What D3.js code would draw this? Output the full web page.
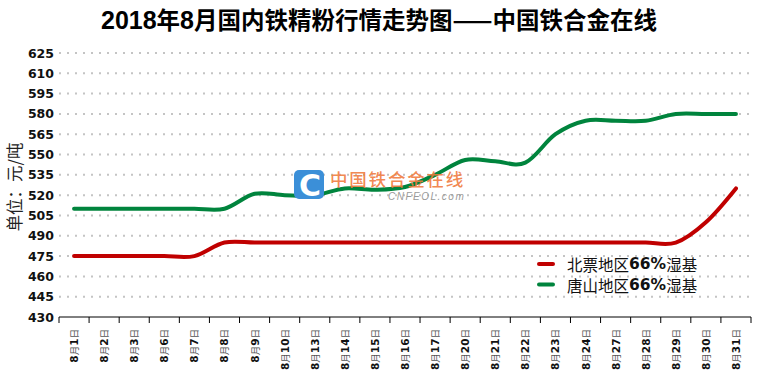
<!DOCTYPE html>
<html><head><meta charset="utf-8">
<script src="https://cdn.jsdelivr.net/npm/d3@7/dist/d3.min.js"></script>
<style>body{margin:0;background:#fff}svg{display:block}</style>
</head><body>
<script>
const categories = ["8月1日","8月2日","8月3日","8月6日","8月7日","8月8日","8月9日","8月10日","8月13日","8月14日","8月15日","8月16日","8月17日","8月20日","8月21日","8月22日","8月23日","8月24日","8月27日","8月28日","8月29日","8月30日","8月31日"];
const beipiao = [475,475,475,475,475,485,485,485,485,485,485,485,485,485,485,485,485,485,485,485,485,500,525];
const tangshan = [510,510,510,510,510,510,521,520,520,525,524,526,535,546,545,544,565,575,575,575,580,580,580];
const yTicks = [430,445,460,475,490,505,520,535,550,565,580,595,610,625];
const seriesNames = ["北票地区66%湿基","唐山地区66%湿基"];
const title = "2018年8月国内铁精粉行情走势图——中国铁合金在线";
const yTitle = "单位：元/吨";

const W = 760, H = 371;
const svg = d3.select("body").append("svg").attr("width", W).attr("height", H);
const x = d3.scaleBand().domain(categories).range([59, 751]);
const y = d3.scaleLinear().domain([430, 625]).range([317, 53]);

// title
const t = svg.append("text").attr("x", 379).attr("y", 29).attr("text-anchor", "middle")
  .attr("font-family", "'Noto Sans CJK SC'").attr("font-weight", "bold").attr("font-size", 23.5).attr("fill", "#000");
title.split(/(\d+)/).filter(s => s.length).forEach(s => {
  const ts = t.append("tspan").text(s);
  if (/^\d+$/.test(s)) ts.attr("font-family", "'Liberation Sans Narrow','Liberation Sans'").attr("font-size", 25);
});

// gridlines
svg.append("g").selectAll("line").data(yTicks.filter(v => v !== 430)).join("line")
  .attr("x1", 59).attr("x2", 751).attr("y1", d => y(d)).attr("y2", d => y(d))
  .attr("stroke", "#c4c4c4").attr("stroke-width", 2).attr("stroke-dasharray", "2,6");

// y labels
svg.append("g").selectAll("text").data(yTicks).join("text")
  .attr("x", 54).attr("y", d => y(d)).attr("dy", "0.36em").attr("text-anchor", "end")
  .attr("font-family", "'DejaVu Sans'").attr("font-weight", "bold").attr("font-size", 12.5)
  .attr("fill", "#111").text(d => d);

// y title
svg.append("text").attr("transform", "translate(14,187) rotate(-90)")
  .attr("text-anchor", "middle").attr("dominant-baseline", "central")
  .attr("font-family", "'Noto Sans CJK SC'").attr("font-size", 16.5).attr("fill", "#222")
  .text(yTitle);

// x axis
const xa = svg.append("g");
xa.append("line").attr("x1", 59).attr("x2", 751).attr("y1", 317).attr("y2", 317).attr("stroke", "#000").attr("stroke-width", 1);
const bounds = categories.map(c => x(c)).concat([x.range()[1]]);
xa.selectAll("line.tk").data(bounds).join("line").attr("class", "tk")
  .attr("x1", d => d).attr("x2", d => d).attr("y1", 317).attr("y2", 323).attr("stroke", "#000");
xa.selectAll("text").data(categories).join("text")
  .attr("transform", d => `translate(${x(d) + x.bandwidth() / 2},329) rotate(-90)`)
  .attr("text-anchor", "end").attr("dominant-baseline", "central")
  .attr("font-size", 10.5)
  .each(function (d) {
    const el = d3.select(this);
    d.split(/(\d+)/).filter(s => s.length).forEach(s => {
      const ts = el.append("tspan").text(s);
      if (/^\d+$/.test(s)) ts.attr("font-family", "'DejaVu Sans'").attr("font-weight", "bold").attr("fill", "#111");
      else ts.attr("font-family", "'Noto Sans CJK SC'").attr("fill", "#555").attr("font-size", 9.5);
    });
  });

// lines
const colors = ["#c00000", "#00843d"];
const line = d3.line().x((d, i) => x(categories[i]) + x.bandwidth() / 2).y(d => y(d)).curve(d3.curveCardinal.tension(0));
[beipiao, tangshan].forEach((s, k) => {
  svg.append("path").datum(s).attr("d", line).attr("fill", "none")
    .attr("stroke", colors[k]).attr("stroke-width", 4).attr("stroke-linecap", "round").attr("stroke-linejoin", "round");
});

// watermark (drawn over the lines)
const wm = svg.append("g");
wm.append("rect").attr("x", 294).attr("y", 170).attr("width", 30).attr("height", 29).attr("rx", 5).attr("fill", "#3b8fd8");
wm.append("text").attr("x", 310).attr("y", 185).attr("text-anchor", "middle").attr("dominant-baseline", "central")
  .attr("font-family", "'DejaVu Sans'").attr("font-weight", "bold").attr("font-size", 30).attr("fill", "#fff").text("C");
wm.append("text").attr("x", 330).attr("y", 186).attr("font-family", "'Noto Sans CJK SC'").attr("font-weight", 500).attr("font-size", 17.5)
  .attr("letter-spacing", 1.8).attr("fill", "#f07a3c").attr("fill-opacity", 0.9).text("中国铁合金在线");
wm.append("text").attr("x", 388).attr("y", 200).attr("font-family", "'Liberation Sans'").attr("font-style", "italic")
  .attr("font-size", 10).attr("letter-spacing", 1.5).attr("fill", "#9a9a9a").text("CNFEOL.com");

// legend
seriesNames.forEach((n, k) => {
  const ly = 264 + k * 20.5;
  svg.append("line").attr("x1", 539).attr("x2", 553).attr("y1", ly).attr("y2", ly)
    .attr("stroke", colors[k]).attr("stroke-width", 4).attr("stroke-linecap", "round");
  const tx = svg.append("text").attr("x", 567).attr("y", ly).attr("dominant-baseline", "central")
    .attr("font-size", 15.5).attr("fill", "#111");
  n.split(/(\d+%)/).filter(s => s.length).forEach(s => {
    const ts = tx.append("tspan").text(s);
    if (/%/.test(s)) ts.attr("font-family", "'DejaVu Sans'").attr("font-weight", "bold");
    else ts.attr("font-family", "'Noto Sans CJK SC'");
  });
});
</script>
</body></html>
